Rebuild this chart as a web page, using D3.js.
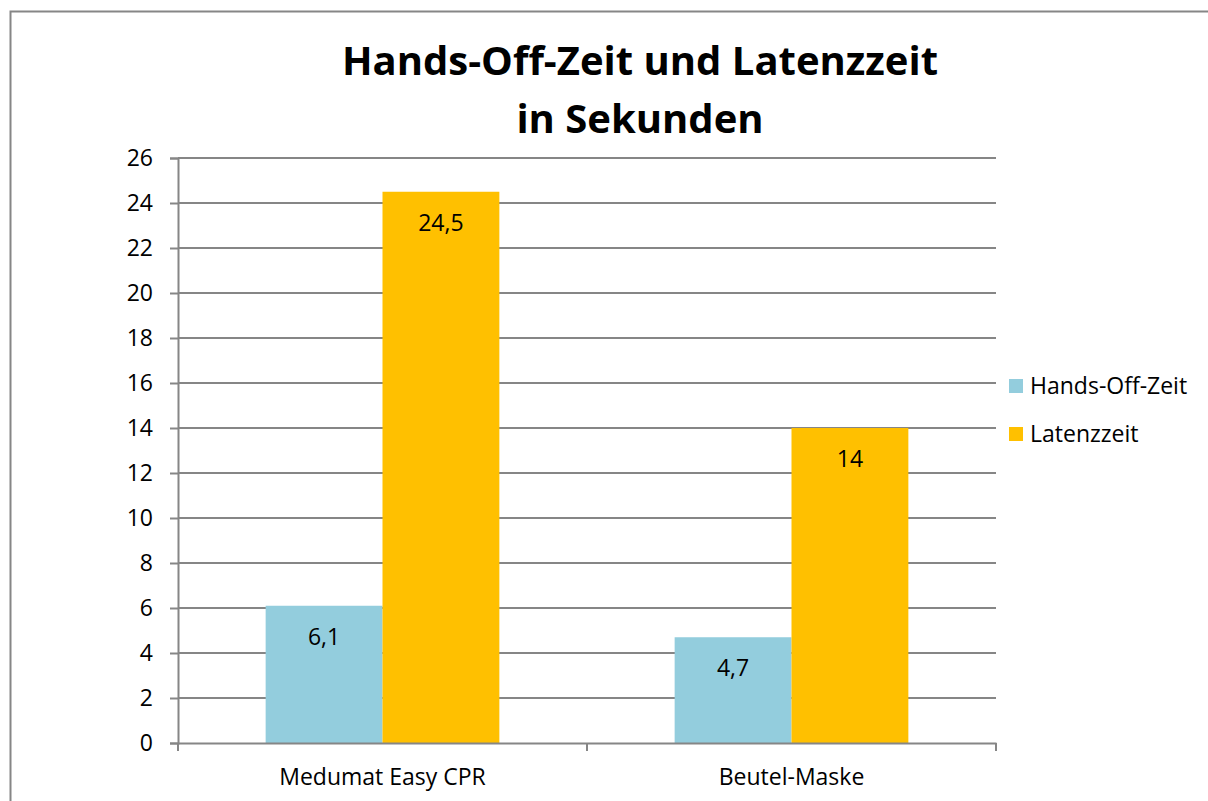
<!DOCTYPE html>
<html>
<head>
<meta charset="utf-8">
<script src="https://cdn.jsdelivr.net/npm/d3@7"></script>
<style>
  body { margin: 0; background: #fff; }
  text { font-family: "Open Sans", sans-serif; fill: #000; }
</style>
</head>
<body>
<div id="chart"></div>
<script>
const categories = ["Medumat Easy CPR", "Beutel-Maske"];
const seriesNames = ["Hands-Off-Zeit", "Latenzzeit"];
const handsOff = [6.1, 4.7];
const latenz = [24.5, 14];
const yTicks = [0, 2, 4, 6, 8, 10, 12, 14, 16, 18, 20, 22, 24, 26];
const colors = ["#93CDDD", "#FFC000"];

const width = 1208, height = 801;
const plot = { left: 178, right: 996, top: 158, bottom: 743 };

const svg = d3.select("#chart")
    .append("svg")
    .attr("width", width)
    .attr("height", height);

// outer frame of the chart area
svg.append("rect")
    .attr("x", 10.5).attr("y", 11.5)
    .attr("width", width + 20).attr("height", height + 20)
    .attr("fill", "none")
    .attr("stroke", "#868686")
    .attr("stroke-width", 2);

const y = d3.scaleLinear()
    .domain([0, 26])
    .range([plot.bottom, plot.top]);

const x0 = d3.scaleBand()
    .domain(categories)
    .range([plot.left, plot.right]);

const x1 = d3.scaleBand()
    .domain(seriesNames)
    .range([0, x0.bandwidth()])
    .paddingOuter(0.75);

// grid lines
svg.append("g")
    .selectAll("line")
    .data(yTicks.filter(d => d > 0))
    .join("line")
    .attr("x1", plot.left).attr("x2", plot.right)
    .attr("y1", d => y(d)).attr("y2", d => y(d))
    .attr("stroke", "#868686")
    .attr("stroke-width", 2);

// y axis
const yAxis = svg.append("g")
    .attr("transform", `translate(${plot.left},0)`)
    .call(d3.axisLeft(y).tickValues(yTicks).tickSize(8).tickPadding(17));
yAxis.select(".domain").attr("stroke", "#868686").attr("stroke-width", 2);
yAxis.selectAll(".tick line").attr("stroke", "#868686").attr("stroke-width", 2);
yAxis.selectAll("text").style("font-size", "23px").attr("fill", "#000");

// bars
const rows = categories.map((c, i) => ({ cat: c, values: [handsOff[i], latenz[i]] }));
const groups = svg.append("g")
    .selectAll("g")
    .data(rows)
    .join("g")
    .attr("transform", d => `translate(${x0(d.cat)},0)`);

groups.selectAll("rect")
    .data(d => d.values.map((v, j) => ({ key: seriesNames[j], v, j })))
    .join("rect")
    .attr("x", d => x1(d.key))
    .attr("y", d => y(d.v))
    .attr("width", x1.bandwidth())
    .attr("height", d => y(0) - y(d.v))
    .attr("fill", d => colors[d.j]);

groups.selectAll("text.lbl")
    .data(d => d.values.map((v, j) => ({ key: seriesNames[j], v, j })))
    .join("text")
    .attr("class", "lbl")
    .attr("x", d => x1(d.key) + x1.bandwidth() / 2)
    .attr("y", d => y(d.v) + 39)
    .attr("text-anchor", "middle")
    .style("font-size", "23px")
    .text(d => String(d.v).replace(".", ","));

// x axis
const xAxis = svg.append("g")
    .attr("transform", `translate(0,${plot.bottom})`)
    .call(d3.axisBottom(x0).tickSize(0).tickPadding(26));
xAxis.select(".domain").attr("stroke", "#868686").attr("stroke-width", 2);
xAxis.selectAll("text").style("font-size", "23px").attr("fill", "#000");
// category separator ticks
xAxis.append("g")
    .selectAll("line")
    .data([plot.left, x0(categories[1]), plot.right])
    .join("line")
    .attr("x1", d => d).attr("x2", d => d)
    .attr("y1", 0).attr("y2", 8)
    .attr("stroke", "#868686")
    .attr("stroke-width", 2);

// title
const title = svg.append("text")
    .attr("x", 640)
    .attr("text-anchor", "middle")
    .style("font-size", "40px")
    .style("font-weight", "bold");
title.append("tspan").attr("x", 640).attr("y", 75).text("Hands-Off-Zeit und Latenzzeit");
title.append("tspan").attr("x", 640).attr("y", 133).text("in Sekunden");

// legend
const legend = svg.append("g")
    .attr("transform", "translate(1009,379)");
const item = legend.selectAll("g")
    .data(seriesNames)
    .join("g")
    .attr("transform", (d, i) => `translate(0,${i * 48})`);
item.append("rect")
    .attr("width", 14).attr("height", 14)
    .attr("fill", (d, i) => colors[i]);
item.append("text")
    .attr("x", 21).attr("y", 15)
    .style("font-size", "23px")
    .text(d => d);
</script>
</body>
</html>
